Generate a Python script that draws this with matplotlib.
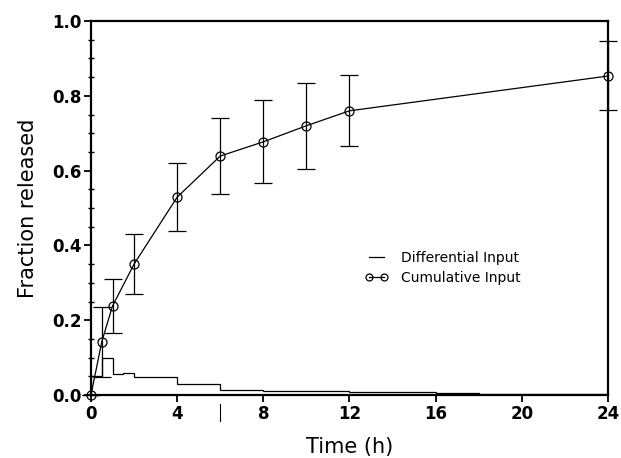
import matplotlib.pyplot as plt
from matplotlib.lines import Line2D
import numpy as np

# cumulative input (fraction released) with error bars
t_cum = [0, 0.5, 1, 2, 4, 6, 8, 10, 12, 24]
frac_cum = [0.0, 0.142, 0.238, 0.350, 0.529, 0.639, 0.677, 0.720, 0.760, 0.853]
err_lo = [0.0, 0.049, 0.167, 0.270, 0.439, 0.537, 0.566, 0.605, 0.665, 0.762]
err_hi = [0.0, 0.234, 0.309, 0.430, 0.621, 0.741, 0.788, 0.834, 0.856, 0.947]

# differential input, step profile
t_edges = [0, 0.5, 1, 1.5, 2, 4, 6, 8, 12, 16, 18, 24]
frac_diff = [0.05, 0.10, 0.057, 0.060, 0.048, 0.030, 0.012, 0.010, 0.008, 0.004, 0.002]

x_ticks = [0, 4, 8, 12, 16, 20, 24]
y_ticks = [0.0, 0.2, 0.4, 0.6, 0.8, 1.0]

fig = plt.figure(figsize=(6.21, 4.58), dpi=100)
ax = fig.add_axes([0.1465, 0.1376, 0.8325, 0.8164])

ax.stairs(frac_diff, t_edges, baseline=0, color='black', lw=0.9)

yerr = [np.array(frac_cum) - np.array(err_lo), np.array(err_hi) - np.array(frac_cum)]
ax.errorbar(t_cum, frac_cum, yerr=yerr, color='black', lw=0.9, elinewidth=0.9,
            capsize=6.5, capthick=0.9, marker='o', ms=6.5, mfc='none', mec='black',
            mew=0.9, clip_on=False, zorder=3)

ax.set_xlim(0, 24)
ax.set_ylim(0, 1.0)
ax.set_xticks(x_ticks)
ax.set_yticks(y_ticks)
ax.set_yticks(np.arange(0, 1.0001, 0.05), minor=True)
ax.set_xticklabels([str(v) for v in x_ticks], fontsize=12, fontweight='bold')
ax.set_yticklabels(['%.1f' % v for v in y_ticks], fontsize=12, fontweight='bold')
ax.tick_params(axis='both', which='major', direction='out', length=5, width=1.3, pad=2)
ax.tick_params(axis='y', which='minor', direction='inout', length=4, width=1.0)

for s in ax.spines.values():
    s.set_linewidth(1.6)

ax.set_xlabel('Time (h)', fontsize=15, labelpad=10)
ax.set_ylabel('Fraction released', fontsize=15, labelpad=10)

# stray mark below the axis at t = 6
ax.plot([6, 6], [-0.025, -0.07], color='black', lw=0.8, clip_on=False)

handles = [
    Line2D([], [], color='black', lw=0.9),
    Line2D([], [], color='black', lw=0.9, marker='o', ms=5, mfc='none', mec='black', mew=0.9),
]
labels = ['Differential Input', 'Cumulative Input']
ax.legend(handles, labels, loc='center', bbox_to_anchor=(0.68, 0.34), frameon=False,
          fontsize=10, numpoints=2, handlelength=1.7, handletextpad=0.9, labelspacing=0.45)

fig.savefig('out.png', dpi=100)
